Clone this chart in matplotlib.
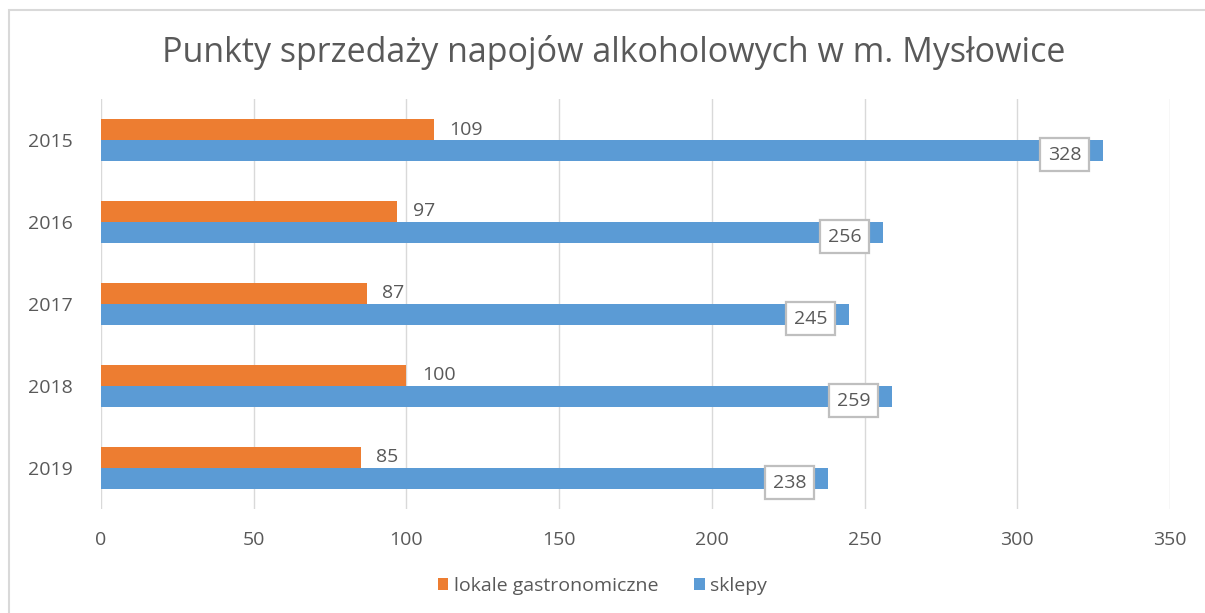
import matplotlib.pyplot as plt
import numpy as np
from matplotlib.patches import Rectangle

plt.rcParams['font.family'] = ['Open Sans', 'DejaVu Sans']

# Dane
years = ['2015', '2016', '2017', '2018', '2019']
lokale = [109, 97, 87, 100, 85]
sklepy = [328, 256, 245, 259, 238]

orange = '#ED7D31'
blue = '#5B9BD5'
text_col = '#595959'

fig = plt.figure(figsize=(12.05, 6.13), dpi=100)
ax = fig.add_axes([0.0838, 0.1697, 0.971 - 0.0838, 0.8385 - 0.1697])

# ramka wokol wykresu
fig.patches.append(Rectangle((0.0075, -0.01), 1.0, 0.994, transform=fig.transFigure,
                             fill=False, edgecolor='#D9D9D9', linewidth=1.5))

y = np.arange(len(years))
h = 0.256
ax.barh(y - h / 2, lokale, height=h, color=orange, label='lokale gastronomiczne', zorder=3)
ax.barh(y + h / 2, sklepy, height=h, color=blue, label='sklepy', zorder=3)

for yi, v in zip(y, lokale):
    ax.text(v + 5, yi - h / 2, str(v), va='center', ha='left', fontsize=14, color=text_col)
for yi, v in zip(y, sklepy):
    ax.text(v - 12.6, yi + h / 2 + 0.05, str(v), va='center', ha='center', fontsize=14, color=text_col,
            zorder=5, bbox=dict(boxstyle='square,pad=0.4', facecolor='white', edgecolor='#BFBFBF', linewidth=1.6))

ax.set_xlim(0, 350)
ax.set_ylim(len(years) - 0.5, -0.5)
ax.set_xticks(np.arange(0, 351, 50))
ax.set_yticks(y)
ax.set_yticklabels(years)
ax.grid(axis='x', color='#D9D9D9', linewidth=1, zorder=0)
for s in ax.spines.values():
    s.set_visible(False)
ax.tick_params(length=0, labelsize=14, colors=text_col)
ax.tick_params(axis='x', pad=16)
ax.tick_params(axis='y', pad=20)

fig.text(0.509, 0.915, 'Punkty sprzedaży napojów alkoholowych w m. Mysłowice', ha='center', va='center',
         fontsize=24.5, color=text_col)

leg = fig.legend(loc='center', bbox_to_anchor=(0.5, 0.044), ncol=2, frameon=False, fontsize=14,
                 handlelength=0.55, handleheight=0.55, handletextpad=0.3, columnspacing=1.8)
for t in leg.get_texts():
    t.set_color(text_col)

fig.savefig('out.png', dpi=100, facecolor='white')
